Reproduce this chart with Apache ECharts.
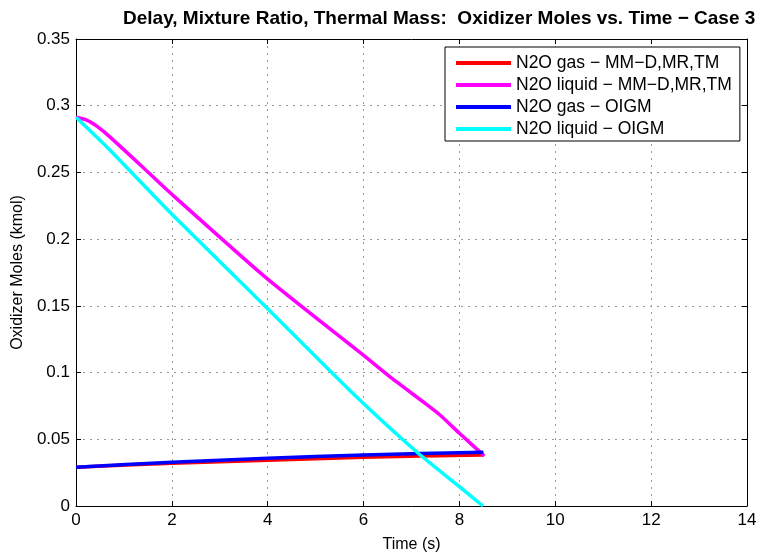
<!DOCTYPE html>
<html>
<head>
<meta charset="utf-8">
<script src="https://cdn.jsdelivr.net/npm/echarts@6/dist/echarts.min.js"></script>
<style>html,body{margin:0;padding:0;background:#fff;}#c{width:772px;height:558px;}</style>
</head>
<body>
<div id="c"></div>
<script>
// Data
var tLiqMM = [0, 0.2, 0.4, 0.6, 0.9, 1.4, 2, 4, 6, 6.67, 7.3, 7.6, 8, 8.52];
var liqMM  = [0.2913, 0.2895, 0.2856, 0.2800, 0.2703, 0.2537, 0.2336, 0.170, 0.1129, 0.0935, 0.0765, 0.068, 0.0545, 0.0375];
var tLiqOI = [0, 0.7, 2, 4, 5.85, 7.14, 8, 8.49];
var liqOI  = [0.2913, 0.2670, 0.2187, 0.1478, 0.0818, 0.0395, 0.0145, 0];
var tGas   = [0, 2, 4, 6, 8.5];
var gasMM  = [0.0291, 0.0321, 0.0343, 0.0366, 0.0383];
var gasOI  = [0.0291, 0.0328, 0.0357, 0.0383, 0.0403];
var xTicks = [0, 2, 4, 6, 8, 10, 12, 14];
var yTicks = [0, 0.05, 0.1, 0.15, 0.2, 0.25, 0.3, 0.35];
var names = ['N2O gas \u2212 MM\u2212D,MR,TM', 'N2O liquid \u2212 MM\u2212D,MR,TM', 'N2O gas \u2212 OIGM', 'N2O liquid \u2212 OIGM'];

function pairs(xs, ys) { return xs.map(function (x, i) { return [x, ys[i]]; }); }

var FONT = 'Liberation Sans';
var chart = echarts.init(document.getElementById('c'), null, { renderer: 'canvas' });
var axisCommon = {
  type: 'value',
  axisLine: { show: true, onZero: false, lineStyle: { color: '#000', width: 1 } },
  axisTick: { show: true, inside: true, length: 5, lineStyle: { color: '#000' } }
};
function mkSeries(name, data, color) {
  return { name: name, type: 'line', data: data, showSymbol: false, symbol: 'none',
    lineStyle: { color: color, width: 3.5 }, itemStyle: { color: color }, smooth: 0.2, z: 3, animation: false, xAxisIndex: 0, yAxisIndex: 0 };
}
chart.setOption({
  animation: false,
  backgroundColor: '#fff',
  title: {
    text: 'Delay, Mixture Ratio, Thermal Mass:  Oxidizer Moles vs. Time \u2212 Case 3',
    left: 118, top: 4,
    textStyle: { fontFamily: FONT, fontWeight: 'bold', fontSize: 19, color: '#000' }
  },
  grid: { left: 76, right: 25, top: 39, bottom: 50, containLabel: false },
  legend: {
    data: names,
    orient: 'vertical',
    left: 445, top: 47,
    icon: 'rect',
    itemWidth: 55, itemHeight: 4, itemGap: 2,
    padding: [6, 8, 2, 11],
    borderColor: '#000', borderWidth: 1, backgroundColor: '#fff',
    textStyle: { fontFamily: FONT, fontSize: 17.5, color: '#000', lineHeight: 20 },
    z: 10
  },
  xAxis: [
    Object.assign({}, axisCommon, {
      min: xTicks[0], max: xTicks[xTicks.length - 1], interval: 2, position: 'bottom',
      name: 'Time (s)', nameLocation: 'middle', nameGap: 31,
      nameTextStyle: { fontFamily: FONT, fontSize: 16, color: '#000' },
      axisLabel: { fontFamily: FONT, fontSize: 17, color: '#000', margin: 6 },
      splitLine: { show: true, lineStyle: { color: '#999', type: [2, 5], width: 1 } }
    }),
    Object.assign({}, axisCommon, {
      min: xTicks[0], max: xTicks[xTicks.length - 1], interval: 2, position: 'top',
      axisLabel: { show: false }, splitLine: { show: false }
    })
  ],
  yAxis: [
    Object.assign({}, axisCommon, {
      min: yTicks[0], max: yTicks[yTicks.length - 1], interval: 0.05, position: 'left',
      name: 'Oxidizer Moles (kmol)', nameLocation: 'middle', nameGap: 50,
      nameTextStyle: { fontFamily: FONT, fontSize: 16, color: '#000' },
      axisLabel: { fontFamily: FONT, fontSize: 17, color: '#000', margin: 6,
        formatter: function (v) { return String(parseFloat(v.toFixed(2))); } },
      splitLine: { show: true, lineStyle: { color: '#999', type: [2, 5], width: 1 } }
    }),
    Object.assign({}, axisCommon, {
      min: yTicks[0], max: yTicks[yTicks.length - 1], interval: 0.05, position: 'right',
      axisLabel: { show: false }, splitLine: { show: false }
    })
  ],
  series: [
    mkSeries(names[0], pairs(tGas, gasMM), '#ff0000'),
    mkSeries(names[1], pairs(tLiqMM, liqMM), '#ff00ff'),
    mkSeries(names[2], pairs(tGas, gasOI), '#0000ff'),
    mkSeries(names[3], pairs(tLiqOI, liqOI), '#00ffff')
  ]
});
</script>
</body>
</html>
